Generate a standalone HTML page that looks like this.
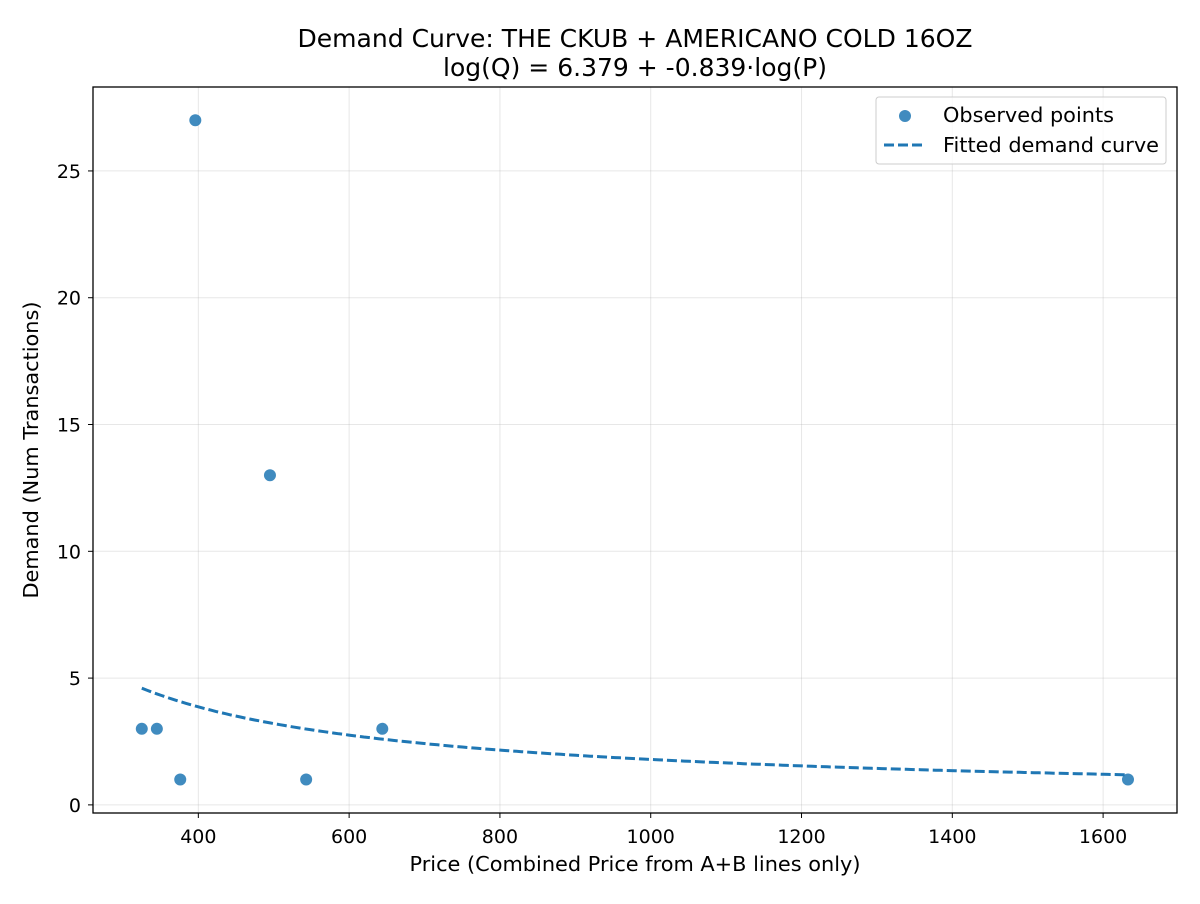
<!DOCTYPE html>
<html><head><meta charset="utf-8"><style>
body{margin:0;background:#fff;font-family:"DejaVu Sans","Liberation Sans",sans-serif;}
svg text{font-family:"DejaVu Sans","Liberation Sans",sans-serif;fill:#000;}
</style></head><body>
<svg id="chart" width="1200" height="900" xmlns="http://www.w3.org/2000/svg">
<rect width="1200" height="900" fill="#fff"/>
<g id="grid"></g>
<g id="curve"></g>
<g id="points"></g>
<rect x="93" y="87" width="1084" height="726" fill="none" stroke="#000" stroke-width="1.3"/>
<g id="ticks"></g>
<text x="635" y="47" text-anchor="middle" font-size="25" textLength="675" lengthAdjust="spacingAndGlyphs">Demand Curve: THE CKUB + AMERICANO COLD 16OZ</text>
<text x="635" y="76" text-anchor="middle" font-size="25" textLength="384" lengthAdjust="spacingAndGlyphs">log(Q) = 6.379 + -0.839·log(P)</text>
<text x="635" y="871" text-anchor="middle" font-size="20.8" textLength="451" lengthAdjust="spacingAndGlyphs">Price (Combined Price from A+B lines only)</text>
<text transform="translate(38,450) rotate(-90)" text-anchor="middle" font-size="20.8" textLength="297" lengthAdjust="spacingAndGlyphs">Demand (Num Transactions)</text>
<g>
<rect x="876" y="97" width="290" height="67" rx="3" fill="#fff" fill-opacity="0.8" stroke="#ccc"/>
<circle cx="905" cy="116" r="6" fill="#1f77b4" fill-opacity="0.85"/>
<text x="943" y="122" font-size="20.8" textLength="171" lengthAdjust="spacingAndGlyphs">Observed points</text>
<line x1="884" y1="145" x2="926" y2="145" stroke="#1f77b4" stroke-width="3" stroke-dasharray="10,4"/>
<text x="943" y="152" font-size="20.8" textLength="216" lengthAdjust="spacingAndGlyphs">Fitted demand curve</text>
</g>
</svg>
<script>
const prices=[325,345,376,396,495,543,644,1633];
const demand=[3,3,1,27,13,1,3,1];
const xTicks=[400,600,800,1000,1200,1400,1600];
const yTicks=[0,5,10,15,20,25];
const coefA=[6.379];
const coefB=[-0.839];
const L=93,R=1177,T=87,B=813,xMin=260.3,xMax=1698,yMin=-0.32,yMax=28.31;
const xs=v=>L+(v-xMin)/(xMax-xMin)*(R-L);
const ys=v=>B-(v-yMin)/(yMax-yMin)*(B-T);
const NS="http://www.w3.org/2000/svg";
function mk(tag,attrs,parent){const e=document.createElementNS(NS,tag);for(const k in attrs)e.setAttribute(k,attrs[k]);parent.appendChild(e);return e;}
const grid=document.getElementById('grid'),ticks=document.getElementById('ticks');
xTicks.forEach(t=>{const x=xs(t);
 const g=mk('line',{x1:x,x2:x,y1:T,y2:B,stroke:'#b0b0b0','stroke-opacity':0.3,'stroke-width':1},grid);
 
 
 const tk=mk('line',{x1:x,x2:x,y1:B,y2:B+5,stroke:'#000','stroke-width':1},ticks);
 
 
 const tx=mk('text',{x:x,y:B+30,'text-anchor':'middle','font-size':19},ticks);tx.textContent=t;
 
 
});
yTicks.forEach(t=>{const y=ys(t);
 const g=mk('line',{x1:L,x2:R,y1:y,y2:y,stroke:'#b0b0b0','stroke-opacity':0.3,'stroke-width':1},grid);
 
 
 const tk=mk('line',{x1:L-5,x2:L,y1:y,y2:y,stroke:'#000','stroke-width':1},ticks);
 
 
 const tx=mk('text',{x:L-12,y:y+7,'text-anchor':'end','font-size':19},ticks);tx.textContent=t;
 
 
});
const pMin=Math.min(...prices),pMax=Math.max(...prices);
let d='';
for(let i=0;i<=200;i++){const p=pMin+(pMax-pMin)*i/200;const q=Math.exp(coefA[0]+coefB[0]*Math.log(p));d+=(i?'L':'M')+xs(p).toFixed(1)+','+ys(q).toFixed(1);}
const c=mk('path',{d:d,fill:'none',stroke:'#1f77b4','stroke-width':3,'stroke-dasharray':'10,4'},document.getElementById('curve'));


const pts=document.getElementById('points');
prices.forEach((p,i)=>{const e=mk('circle',{cx:xs(p),cy:ys(demand[i]),r:6,fill:'#1f77b4','fill-opacity':0.85},pts);
 
 
});
</script>
</body></html>
